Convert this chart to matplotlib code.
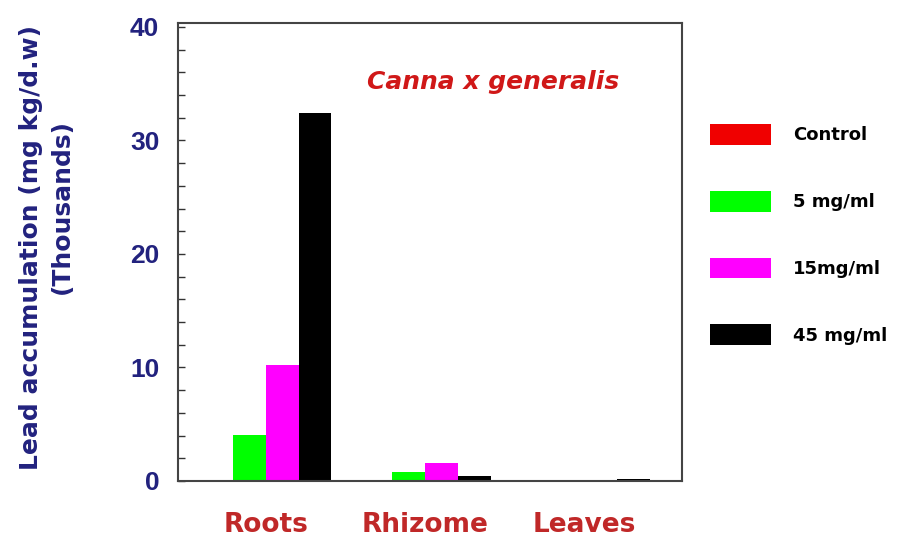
import matplotlib
matplotlib.use("Agg")
import matplotlib.pyplot as plt
import numpy as np

categories = ["Roots", "Rhizome", "Leaves"]
series_names = ["Control", "5 mg/ml", "15mg/ml", "45 mg/ml"]
control = [0.05, 0.0, 0.02]
mg5 = [4.05, 0.77, 0.02]
mg15 = [10.2, 1.6, 0.06]
mg45 = [32.4, 0.44, 0.2]
y_ticks = [0, 10, 20, 30, 40]

series = [control, mg5, mg15, mg45]
colors = ["#f00000", "#00ff00", "#ff00ff", "#000000"]
navy = "#22227e"
red_txt = "#c02828"

plt.rcParams['font.family'] = ['DejaVu Sans']

fig = plt.figure(figsize=(8.98, 5.37), dpi=100)
ax = fig.add_axes([178/898, 1-481/537, (682-178)/898, (481-23)/537])

x = np.arange(len(categories))
w = 0.206
handles = []
for i, (vals, c, name) in enumerate(zip(series, colors, series_names)):
    b = ax.bar(x + (i - 1.5) * w, vals, width=w, color=c, edgecolor='none', label=name)
    handles.append(b)

ax.set_xlim(-0.553, 2.616)
ax.set_ylim(0, 40.35)
ax.set_yticks(y_ticks)
ax.set_yticks(np.arange(0, 41, 2), minor=True)
ax.set_yticklabels([str(t) for t in y_ticks], color=navy, fontsize=19, fontweight='bold',
                   family=['Liberation Sans', 'DejaVu Sans'])
ax.tick_params(axis='y', which='both', direction='in', length=5, width=1, color='#333333', pad=13.5)
ax.set_xticks(x)
ax.set_xticklabels(categories, color=red_txt, fontsize=19, fontweight='bold')
ax.tick_params(axis='x', length=0, pad=22)
for s in ax.spines.values():
    s.set_color('#444444')
    s.set_linewidth(1.5)

fig.text(31/898, 1-247/537, "Lead accumulation (mg kg/d.w)", rotation=90, color=navy,
         fontsize=18, fontweight='bold', ha='center', va='center')
fig.text(62/898, 1-207/537, "(Thousands)", rotation=90, color=navy,
         fontsize=18, fontweight='bold', ha='center', va='center')

ax.text(493/898, 1-89/537, "Canna x generalis", transform=fig.transFigure, color="#d01818",
        fontsize=18, fontweight='bold', style='italic', ha='center', va='baseline')

leg = fig.legend(handles=handles, labels=series_names, loc='upper left',
                 bbox_to_anchor=(710/898, 1-124/537), frameon=False,
                 prop={'weight': 'bold', 'size': 13},
                 handlelength=3.38, handleheight=1.39, labelspacing=2.55,
                 handletextpad=1.22, borderpad=0, borderaxespad=0)

fig.savefig("out.png", dpi=100)
